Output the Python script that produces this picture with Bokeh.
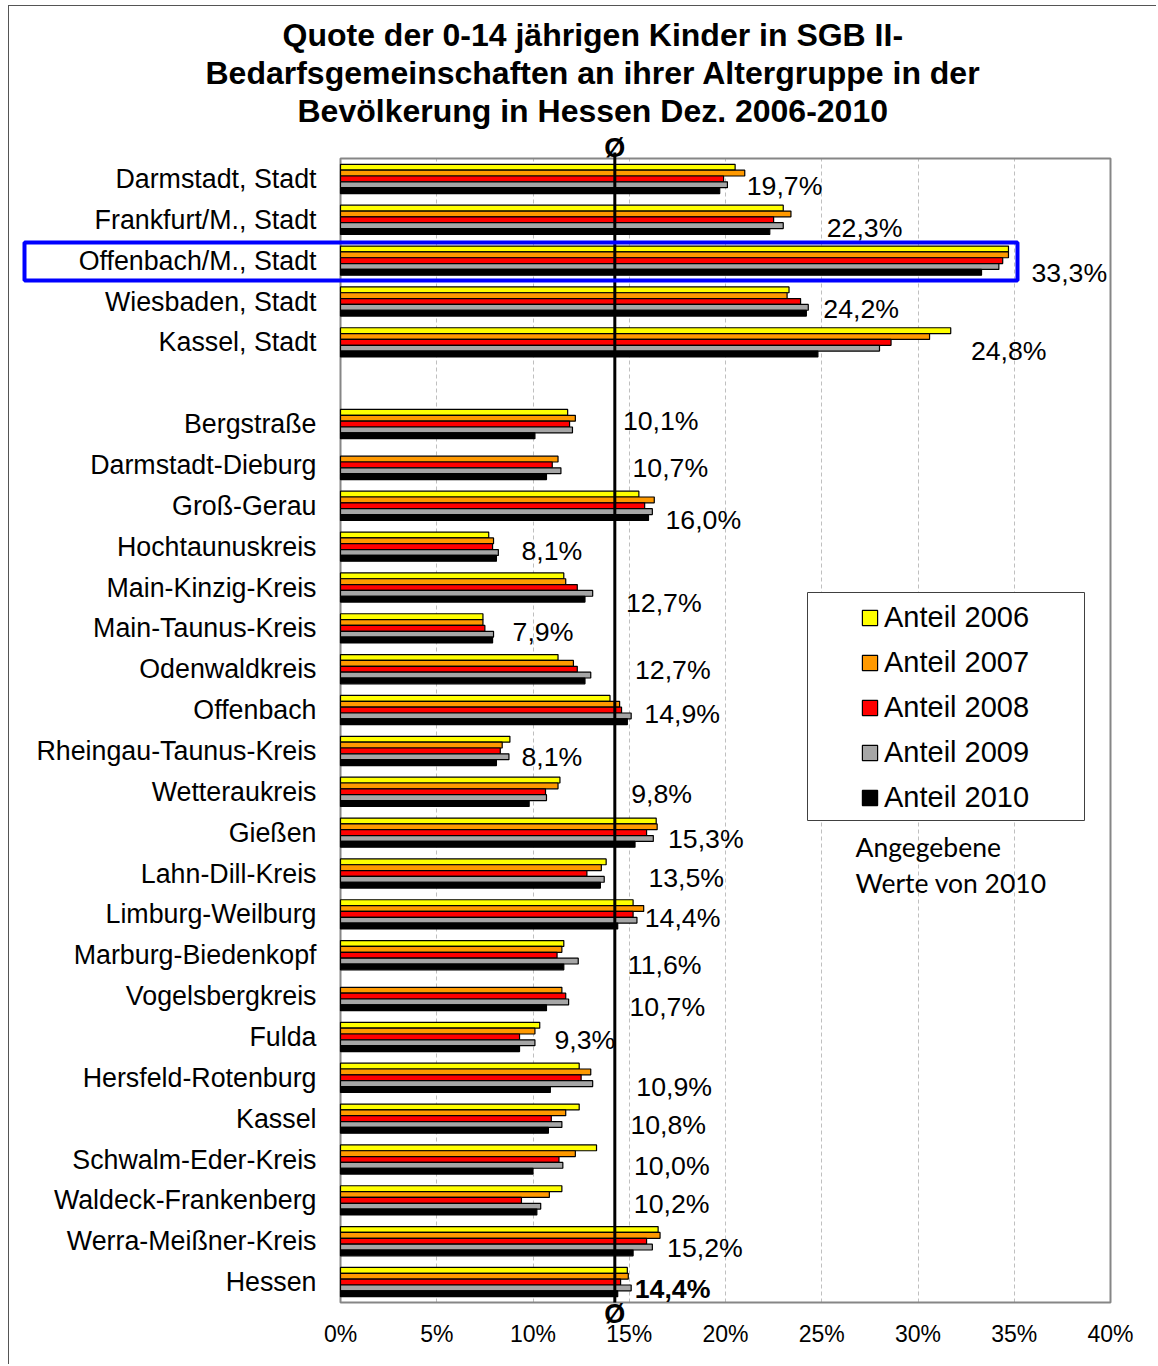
from bokeh.plotting import figure
from bokeh.models import (FixedTicker, PrintfTickFormatter, Label, BoxAnnotation, Title,
                          ColumnDataSource, Range1d, Grid)
from bokeh.core.properties import value
from bokeh.embed import file_html
from bokeh.resources import INLINE

nan = float("nan")

# ---------------- data ----------------
categories = [
    "Darmstadt, Stadt", "Frankfurt/M., Stadt", "Offenbach/M., Stadt", "Wiesbaden, Stadt", "Kassel, Stadt",
    "Bergstraße", "Darmstadt-Dieburg", "Groß-Gerau", "Hochtaunuskreis", "Main-Kinzig-Kreis",
    "Main-Taunus-Kreis", "Odenwaldkreis", "Offenbach", "Rheingau-Taunus-Kreis", "Wetteraukreis",
    "Gießen", "Lahn-Dill-Kreis", "Limburg-Weilburg", "Marburg-Biedenkopf", "Vogelsbergkreis",
    "Fulda", "Hersfeld-Rotenburg", "Kassel", "Schwalm-Eder-Kreis", "Waldeck-Frankenberg",
    "Werra-Meißner-Kreis", "Hessen",
]
share_2006 = [20.5, 23.0, 34.7, 23.3, 31.7, 11.8, nan, 15.5, 7.7, 11.6, 7.4, 11.3, 14.0, 8.8, 11.4,
              16.4, 13.8, 15.2, 11.6, nan, 10.35, 12.4, 12.4, 13.3, 11.5, 16.5, 14.9]
share_2007 = [21.0, 23.4, 34.7, 23.2, 30.6, 12.2, 11.3, 16.3, 7.95, 11.7, 7.4, 12.1, 14.5, 8.4, 11.3,
              16.45, 13.55, 15.75, 11.5, 11.5, 10.1, 13.0, 11.7, 12.2, 10.85, 16.6, 14.95]
share_2008 = [19.9, 22.5, 34.4, 23.9, 28.6, 11.9, 11.0, 15.8, 7.9, 12.3, 7.5, 12.3, 14.6, 8.3, 10.65,
              15.9, 12.8, 15.2, 11.25, 11.7, 9.3, 12.5, 10.95, 11.35, 9.4, 15.9, 14.55]
share_2009 = [20.1, 23.0, 34.2, 24.3, 28.0, 12.05, 11.45, 16.2, 8.2, 13.1, 7.95, 13.0, 15.1, 8.75, 10.7,
              16.25, 13.7, 15.4, 12.35, 11.85, 10.1, 13.1, 11.5, 11.55, 10.4, 16.2, 15.1]
share_2010 = [19.7, 22.3, 33.3, 24.2, 24.8, 10.1, 10.7, 16.0, 8.1, 12.7, 7.9, 12.7, 14.9, 8.1, 9.8,
              15.3, 13.5, 14.4, 11.6, 10.7, 9.3, 10.9, 10.8, 10.0, 10.2, 15.2, 14.4]
years = ["2006", "2007", "2008", "2009", "2010"]
hessen_avg = 14.25
x_ticks = [0, 5, 10, 15, 20, 25, 30, 35, 40]

# ---------------- layout (pixels) ----------------
FONT = "Liberation Sans"
colors = ["#FFFF00", "#FF9900", "#FF0000", "#A6A6A6", "#000000"]
bar_step = 0.143
n_slots = 28                      # 27 categories + one empty slot after the cities
slots = list(range(5)) + list(range(6, 28))
ypos = [n_slots - (s + 0.5) for s in slots]

# hand-placed data labels: pixel offsets from the end of the 2010 bar
label_dx = [27, 57, 50, 17, 153, 88, 86, 17, 25, 41, 20, 50, 17, 25, 102, 33, 48, 27, 64, 83, 35, 86, 82, 101,
            97, 34, 17]
label_dy = [7, 8, 12, 7, 9, -3, 3, 14, 4, 15, 4, 1, 4, 6, 2, 6, 4, 4, 10, 11, 3, 9, 6, 6, 4, 7, 7]

# page geometry: canvas origin on page, plot area mapping
CX0, CY0 = 9, 6                    # canvas top-left on the page (after CSS margin + border)
W, H = 1148, 1359
TOP = 122                          # title band height (canvas px)
PX0, PXU = 340, 19.25              # page x of 0 %, pixels per percent
PY0, PYU = 1302, 40.857            # page y of the bottom of the category band, pixels per slot
def xdat(px): return (px - PX0) / PXU
def ydat(py): return (PY0 - py) / PYU

x_range = Range1d(xdat(CX0), xdat(CX0 + W))
y_range = Range1d(ydat(CY0 + H), ydat(CY0 + TOP))

p = figure(width=W, height=H, x_range=x_range, y_range=y_range,
           output_backend="svg", toolbar_location=None,
           min_border_left=0, min_border_right=0, min_border_top=TOP, min_border_bottom=0)
p.styles = {"margin-left": "8px", "margin-top": "5px",
            "border-left": "1px solid #555555", "border-top": "1px solid #555555"}
p.background_fill_color = "white"
p.border_fill_color = "white"
p.outline_line_color = None

# titles (innermost first)
title_lines = ["Quote der 0-14 jährigen Kinder in SGB II-",
               "Bedarfsgemeinschaften an ihrer Altergruppe in der",
               "Bevölkerung in Hessen Dez. 2006-2010"]
title_left = [282, 205, 297]
for txt, lx in reversed(list(zip(title_lines, title_left))):
    p.add_layout(Title(text=txt, align="left", offset=lx - CX0, text_font=FONT, text_font_size="32px",
                       text_font_style="bold", text_color="black", standoff=0), "above")

# axes, fixed at the 0 % / bottom edge of the bar area
p.xaxis.fixed_location = 0
p.xaxis.bounds = (x_ticks[0], x_ticks[-1])
p.xaxis.ticker = FixedTicker(ticks=x_ticks)
p.xaxis.formatter = PrintfTickFormatter(format="%d%%")
p.xaxis.major_label_text_font = FONT
p.xaxis.major_label_text_font_size = "23px"
p.xaxis.major_label_text_color = "black"
p.xaxis.major_label_standoff = 18

p.yaxis.fixed_location = 0
p.yaxis.bounds = (0, n_slots)
p.yaxis.ticker = FixedTicker(ticks=ypos)
p.yaxis.major_label_overrides = {y: c for y, c in zip(ypos, categories)}
p.yaxis.major_label_text_font = FONT
p.yaxis.major_label_text_font_size = "26.8px"
p.yaxis.major_label_text_color = "black"
p.yaxis.major_label_standoff = 24
for ax in (p.xaxis, p.yaxis):
    ax.axis_line_color = None
    ax.major_tick_line_color = None
    ax.minor_tick_line_color = None
    ax.major_tick_out = 0
    ax.major_tick_in = 0

p.ygrid.visible = False
if "cross_bounds" in Grid.properties():
    p.xgrid.cross_bounds = (0, n_slots)
    p.xgrid.grid_line_color = "#BFBFBF"
    p.xgrid.grid_line_dash = "4 3"
    p.xgrid.grid_line_width = 1
else:
    p.xgrid.visible = False
    p.segment(x0=x_ticks, y0=[0] * len(x_ticks), x1=x_ticks, y1=[n_slots] * len(x_ticks),
              line_color="#BFBFBF", line_dash="4 3", line_width=1, level="underlay")

# plot-area frame
p.add_layout(BoxAnnotation(left=x_ticks[0], right=x_ticks[-1], bottom=0, top=n_slots, level="underlay",
                           fill_alpha=0, line_color="#868686", line_alpha=1, line_width=2))

# legend frame (drawn before the legend so it sits underneath)
p.add_layout(BoxAnnotation(left=xdat(807), right=xdat(1084), top=ydat(592), bottom=ydat(820),
                           fill_color="white", fill_alpha=1.0, line_color="#404040", line_alpha=1,
                           line_width=1))

src = ColumnDataSource(dict(y=ypos, cat=categories, s2006=share_2006, s2007=share_2007,
                            s2008=share_2008, s2009=share_2009, s2010=share_2010))
fields = ["s2006", "s2007", "s2008", "s2009", "s2010"]
for i, (f, yr, c) in enumerate(zip(fields, years, colors)):
    yy = [y + (2 - i) * bar_step for y in ypos]
    s = ColumnDataSource(dict(y=yy, right=src.data[f]))
    p.hbar(y="y", left=0, right="right", height=bar_step, source=s,
           fill_color=c, line_color="black", line_width=1.2, legend_label=f"Anteil {yr}")

# average line (Hessen) with Ø markers
p.segment(x0=[hessen_avg], y0=[0], x1=[hessen_avg], y1=[ydat(152)], line_color="black", line_width=3)
for py in (147, 1313):
    p.add_layout(Label(x=hessen_avg, y=ydat(py), text="Ø", text_align="center", text_baseline="middle",
                       text_font=FONT, text_font_size="27px", text_font_style="bold", text_color="black"))

# data labels (values of 2010)
lbl_text = [("%.1f" % v).replace(".", ",") + "%" for v in share_2010]
lbl_style = ["bold" if c == "Hessen" else "normal" for c in categories]
lsrc = ColumnDataSource(dict(y=ypos, x=share_2010, text=lbl_text, dx=label_dx, dy=label_dy,
                             style=lbl_style))
p.text(x="x", y="y", text="text", x_offset="dx", y_offset="dy", source=lsrc,
       text_font=value(FONT), text_font_size="26.7px", text_font_style="style",
       text_color="black", text_align="left", text_baseline="middle")

# highlight box around Offenbach/M., Stadt
p.add_layout(BoxAnnotation(left=xdat(24), right=xdat(1017), top=ydat(242), bottom=ydat(280),
                           fill_alpha=0, line_color="#0000FF", line_alpha=1, line_width=4))

# note under legend
for txt, py in (("Angegebene", 846), ("Werte von 2010", 882)):
    p.add_layout(Label(x=xdat(855), y=ydat(py), text=txt, text_align="left", text_baseline="middle",
                       text_font="Lato", text_font_size="26.5px", text_color="black"))

lg = p.legend[0]
lg.location = (860 - CX0, (CY0 + H) - 813.5)
lg.padding = 0
lg.margin = 0
lg.spacing = 12
lg.glyph_width = 19
lg.glyph_height = 19
lg.label_height = 33
lg.label_standoff = 5
lg.label_text_font = FONT
lg.label_text_font_size = "29px"
lg.label_text_color = "black"
lg.border_line_color = None
lg.background_fill_alpha = 0

open("out.html", "w").write(file_html(p, INLINE))
